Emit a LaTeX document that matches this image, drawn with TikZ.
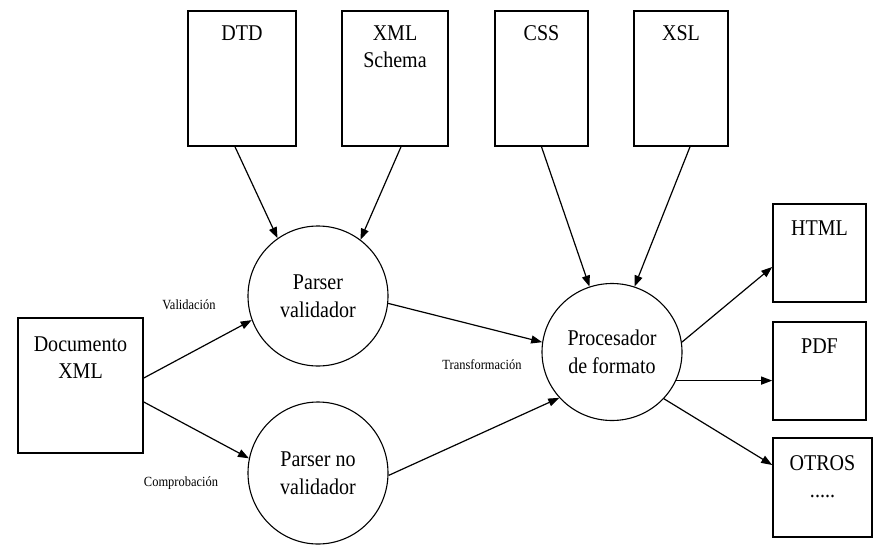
\documentclass[tikz,border=0pt]{standalone}
\usepackage{fontspec}
\setmainfont{Liberation Serif}
\newfontfamily\narrowserif[FakeStretch=0.89]{Liberation Serif}
\usetikzlibrary{arrows.meta,shapes.geometric}
\begin{document}
\begin{tikzpicture}[x=1pt,y=-1pt,
  doc/.style={draw, line width=1.6pt, rectangle, inner sep=0pt},
  boxlabel/.style={font=\narrowserif\fontsize{22.5}{27}\selectfont, align=center, anchor=north, inner sep=0pt},
  proc/.style={draw, line width=1.1pt, ellipse, inner sep=0pt, align=center,
    font=\narrowserif\fontsize{22.5}{28}\selectfont},
  flow/.style={line width=1.2pt, -{Triangle[length=11pt,width=8pt]}},
  flowlabel/.style={font=\narrowserif\fontsize{14}{16}\selectfont, inner sep=0pt}]
\useasboundingbox (0,0) rectangle (875,554);

% input documents
\node[doc, minimum width=108pt, minimum height=135pt,
  label={[boxlabel, yshift=-15pt]north:DTD}] (dtd) at (242,78.5) {};
\node[doc, minimum width=106pt, minimum height=135pt,
  label={[boxlabel, yshift=-15pt]north:XML\\Schema}] (xsd) at (395,78.5) {};
\node[doc, minimum width=93pt, minimum height=135pt,
  label={[boxlabel, yshift=-15pt]north:CSS}] (css) at (541.5,78.5) {};
\node[doc, minimum width=94pt, minimum height=135pt,
  label={[boxlabel, yshift=-15pt]north:XSL}] (xsl) at (681,78.5) {};
\node[doc, minimum width=125pt, minimum height=135pt,
  label={[boxlabel, yshift=-19pt]north:Documento\\XML}] (xml) at (80.5,385.5) {};

% outputs
\node[doc, minimum width=93pt, minimum height=98pt,
  label={[boxlabel, yshift=-17pt]north:HTML}] (html) at (819.5,253) {};
\node[doc, minimum width=93pt, minimum height=98pt,
  label={[boxlabel, yshift=-17pt]north:PDF}] (pdf) at (819.5,371) {};
\node[doc, minimum width=99pt, minimum height=99pt,
  label={[boxlabel, yshift=-18pt]north:OTROS\\.....}] (otros) at (822.5,487.5) {};

% processors
\node[proc, minimum width=140pt, minimum height=140pt] (pv) at (318,296) {Parser\\validador};
\node[proc, minimum width=140pt, minimum height=142pt] (pnv) at (318,473) {Parser no\\validador};
\node[proc, minimum width=140pt, minimum height=137pt] (pp) at (612,352) {Procesador\\de formato};

% connectors
\draw[flow] ([xshift=-7pt]dtd.south) -- (pv.125);
\draw[flow] ([xshift=6pt]xsd.south) -- (pv.53);
\draw[flow] (css.south) -- (pp.109);
\draw[flow] ([xshift=9pt]xsl.south) -- (pp.71);
\draw[flow] ([yshift=7.5pt]xml.east) -- (pv.200);
\draw[flow] ([yshift=-16.5pt]xml.east) -- (pnv.168);
\draw[flow] (pv.-6) -- (pp.172);
\draw[flow] (pnv.-2) -- (pp.221);
\draw[flow] (pp.8) -- ([yshift=-14pt]html.west);
\draw[flow] (pp.-24) -- (pp.-24 -| pdf.west);
\draw[flow] (pp.-42) -- ([yshift=22.5pt]otros.west);

% connector labels
\node[flowlabel] (lval) at (189,305) {Validación};
\node[flowlabel] (lcomp) at (181,483) {Comprobación};
\node[flowlabel] (ltrans) at (482,365) {Transformación};
\end{tikzpicture}
\end{document}
